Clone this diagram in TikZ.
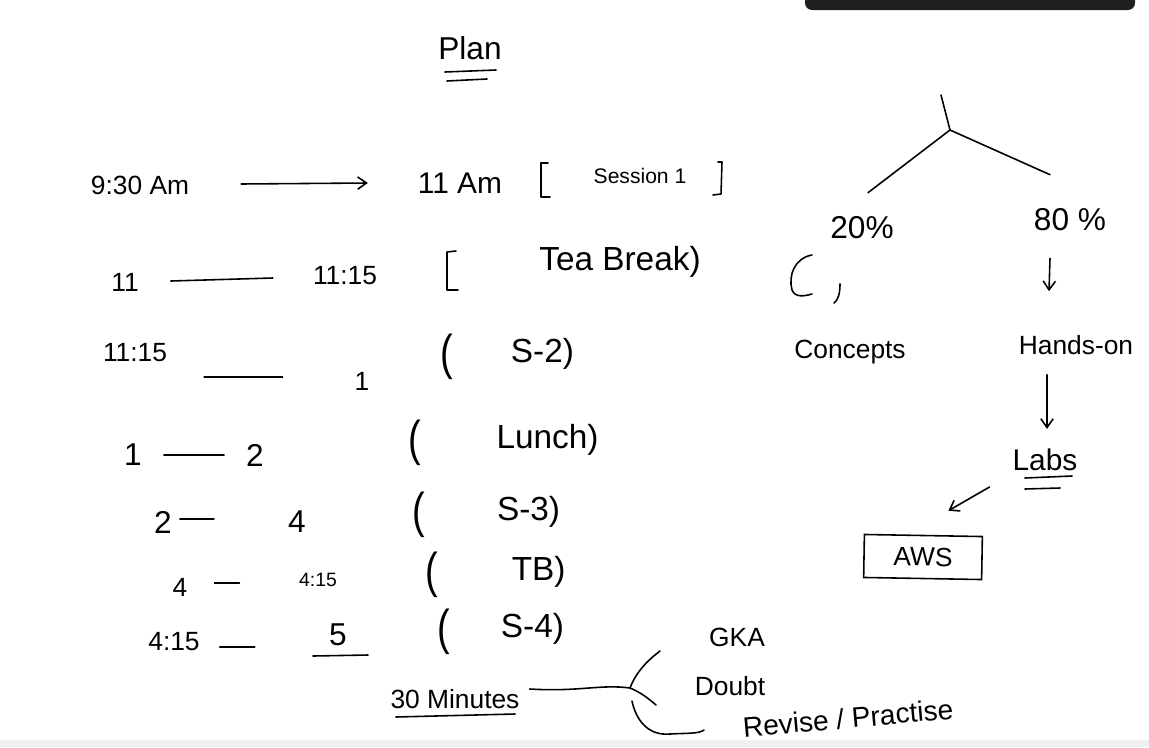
\documentclass[tikz,border=0pt]{standalone}
\usepackage{fontspec}
\usepackage{graphicx}
\setmainfont{Liberation Sans}
\usetikzlibrary{arrows.meta,calc}
\newcommand\BigParen[1]{{\fontsize{18}{18}\selectfont\raisebox{-4pt}{\scalebox{1.2}[1.55]{(}}}\hspace{#1}}
\begin{document}
\begin{tikzpicture}[x=0.02cm,y=-0.02cm,
  ink/.style={draw=black,line width=0.9pt,line cap=round,line join=round},
  txt/.style={inner sep=1pt,font=\fontsize{15}{18}\selectfont},
  ptxt/.style={inner sep=0pt,anchor=base west,font=\fontsize{19}{22}\selectfont},
  small/.style={inner sep=1pt,font=\fontsize{11}{13}\selectfont},
  arr/.style={ink,-{Straight Barb[length=5pt,width=7pt]}}]
\useasboundingbox (0,0) rectangle (1149,747);
\fill[white] (0,0) rectangle (1149,747);
\fill[gray!12] (0,740) rectangle (1149,747);
\fill[black!88,rounded corners=4pt] (805,-10) rectangle (1135,10);
% title
\node[txt,font=\fontsize{18}{21}\selectfont] (plan) at (470,48) {Plan};
\draw[ink] (445,72) -- (496,70);
\draw[ink] (447,81) -- (487,79);
% row 1
\node[txt] (r1a) at (140,185) {9:30 Am};
\node[txt,font=\fontsize{17}{20}\selectfont] (r1b) at (460,183) {11 Am};
\node[txt,font=\fontsize{12}{14}\selectfont] (r1c) at (640,176) {Session 1};
\draw[arr] ($(r1a.east)+(50,-1)$) -- ($(r1b.west)+(-48,0)$);
\draw[ink] (548,163) -- (541,163) -- (541,197) -- (550,197);
\draw[ink] (718,162) -- (722,162) -- (721,194) -- (713,195);
% row 2
\node[txt] (r2a) at (125,282) {11};
\node[txt] (r2b) at (345,276) {11:15};
\node[txt,font=\fontsize{19}{22}\selectfont] (r2c) at (620,262) {Tea Break)};
\draw[ink] ($(r2a.east)+(30,-1)$) -- ($(r2b.west)+(-38,2)$);
\draw[ink] (456,251) -- (447,252) -- (447,290) -- (458,290);
% row 3
\node[txt] (r3a) at (135,353) {11:15};
\node[txt] (r3b) at (362,381) {1};
\node[ptxt] (r3c) at (440,362) {\BigParen{33pt}S-2)};
\draw[ink] ($(r3a.east)+(35,24)$) -- ($(r3b.west)+(-70,-4)$);
% row 4
\node[txt,font=\fontsize{18}{20}\selectfont] (r4a) at (133,455) {1};
\node[txt,font=\fontsize{18}{20}\selectfont] (r4b) at (255,455) {2};
\node[ptxt] (r4c) at (408,448) {\BigParen{43pt}Lunch)};
\draw[ink] ($(r4a.east)+(20,0)$) -- ($(r4b.west)+(-20,0)$);
% row 5
\node[txt,font=\fontsize{18}{20}\selectfont] (r5a) at (163,522) {2};
\node[txt,font=\fontsize{18}{20}\selectfont] (r5b) at (297,522) {4};
\node[ptxt] (r5c) at (412,520) {\BigParen{41pt}S-3)};
\draw[ink] ($(r5a.east)+(6,-3)$) -- ($(r5a.east)+(40,-3)$);
% row 6
\node[txt] (r6a) at (180,587) {4};
\node[small] (r6b) at (318,580) {4:15};
\node[ptxt] (r6c) at (425,580) {\BigParen{42pt}TB)};
\draw[ink] ($(r6a.east)+(25,-4)$) -- ($(r6a.east)+(50,-4)$);
% row 7
\node[txt] (r7a) at (174,642) {4:15};
\node[txt,font=\fontsize{18}{20}\selectfont] (r7b) at (338,635) {5};
\node[ptxt] (r7c) at (437,637) {\BigParen{29pt}S-4)};
\draw[ink] ($(r7a.east)+(18,5)$) -- ($(r7a.east)+(53,5)$);
\draw[ink] (313,656) -- (368,655);
% 30 minutes
\node[txt] (mins) at (455,699) {30 Minutes};
\draw[ink] (396,717) -- (515,714);
\coordinate (hub) at (630,688);
\draw[ink] ($(mins.east)+(8,-10)$) .. controls (580,692) and (600,684) .. (hub);
\node[txt] (gka) at (737,637) {GKA};
\node[txt] (doubt) at (730,686) {Doubt};
\node[txt,rotate=5,font=\fontsize{16}{19}\selectfont] (revise) at (848,718) {Revise / Practise};
\draw[ink] (hub) .. controls (636,672) and (648,660) .. (660,651);
\draw[ink] (hub) .. controls (640,692) and (648,698) .. (656,705);
\draw[ink] (632,701) .. controls (636,720) and (648,736) .. (670,734) .. controls (688,733) and (698,734) .. (704,730);
% right tree
\coordinate (top) at (941,95);
\coordinate (fork) at (950,130);
\draw[ink] (top) -- (fork);
\node[txt,font=\fontsize{18}{20}\selectfont] (p20) at (862,228) {20\%};
\node[txt,font=\fontsize{18}{20}\selectfont] (p80) at (1070,220) {80 \%};
\draw[ink] (fork) -- ($(p20.north)+(6,-22)$);
\draw[ink] (fork) -- ($(p80.north)+(-20,-32)$);
\node[txt] (conc) at (850,352) {Concepts};
\node[txt] (hands) at (1076,345) {Hands-on};
\draw[ink] (812,255) .. controls (795,258) and (788,275) .. (792,290) .. controls (795,298) and (805,296) .. (812,294);
\draw[ink] (840,284) .. controls (840,294) and (838,300) .. (834,303);
\draw[arr] ($(p80.south)+(-20,25)$) -- ($(hands.north)+(-27,-42)$);
\node[txt,font=\fontsize{17}{20}\selectfont] (labs) at (1045,460) {Labs};
\draw[arr] ($(hands.south)+(-29,18)$) -- ($(labs.north)+(2,-18)$);
\draw[ink] (1025,478) -- (1072,476);
\draw[ink] (1025,489) -- (1060,488);
\node[txt,draw=black,line width=0.9pt,minimum width=2.36cm,minimum height=0.86cm,inner sep=0pt,rotate=-1] (aws) at (923,557) {AWS};
\draw[arr] ($(labs.west)+(-21,27)$) -- ($(aws.north)+(25,-24)$);
\end{tikzpicture}
\end{document}
